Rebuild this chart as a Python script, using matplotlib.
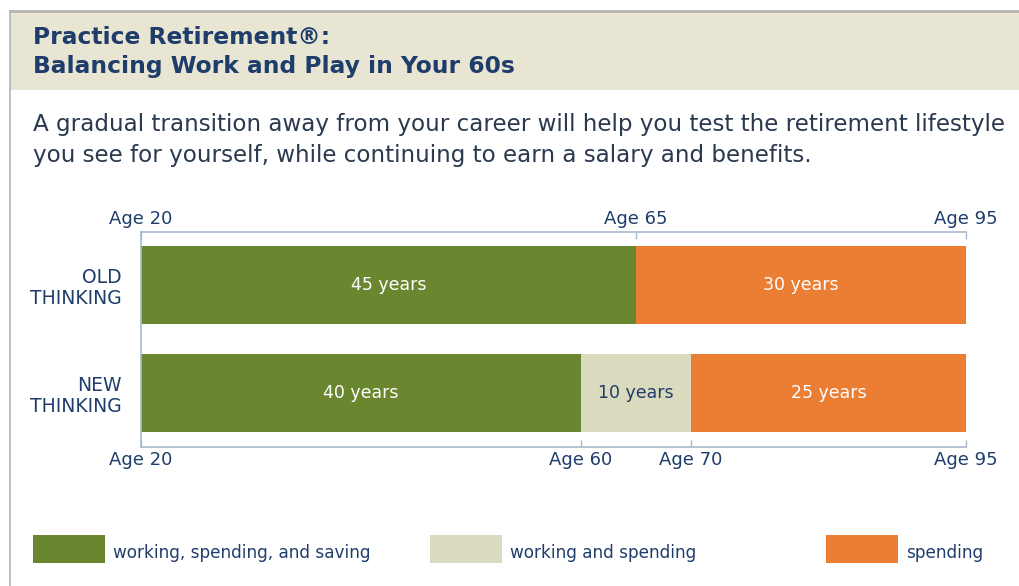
import matplotlib
matplotlib.use("Agg")
import matplotlib.pyplot as plt
from matplotlib.patches import Rectangle
from matplotlib.lines import Line2D

# ---- data ----
categories = ["OLD\nTHINKING", "NEW\nTHINKING"]
series_names = ["working, spending, and saving", "working and spending", "spending"]
old_years = [45, 0, 30]
new_years = [40, 10, 25]
start_age = 20
end_age = 95
top_ticks = [20, 65, 95]
bottom_ticks = [20, 60, 70, 95]
top_labels = ["Age 20", "Age 65", "Age 95"]
bottom_labels = ["Age 20", "Age 60", "Age 70", "Age 95"]

colors = ["#6A862E", "#DADBBE", "#EB7E33"]
label_colors = ["white", "#1F3D6B", "white"]
navy = "#1F3D6B"
axis_col = "#A9B9CD"

W, H = 1020, 586
fig = plt.figure(figsize=(W / 100, H / 100), dpi=100)
fig.patch.set_facecolor("white")

def fx(x):
    return x / W

def fy(y):
    return 1 - y / H

# header band and borders
fig.patches.append(Rectangle((fx(10), fy(90)), 1 - fx(10), fy(12) - fy(90),
                             transform=fig.transFigure, facecolor="#E8E6D3",
                             edgecolor="none", zorder=0))
fig.lines.append(Line2D([fx(10), 1], [fy(11), fy(11)], transform=fig.transFigure,
                        color="#B4B4B4", lw=2))
fig.lines.append(Line2D([fx(10), fx(10)], [fy(11), 0], transform=fig.transFigure,
                        color="#B4B4B4", lw=1.2))

fig.text(fx(33), fy(37), "Practice Retirement®:", fontsize=16.8, fontweight="bold",
         color=navy, va="center", ha="left")
fig.text(fx(33), fy(66), "Balancing Work and Play in Your 60s", fontsize=16.8,
         fontweight="bold", color=navy, va="center", ha="left")

fig.text(fx(33), fy(125), "A gradual transition away from your career will help you test the retirement lifestyle",
         fontsize=16.6, color="#2B3A4F", va="center", ha="left")
fig.text(fx(33), fy(155), "you see for yourself, while continuing to earn a salary and benefits.",
         fontsize=16.6, color="#2B3A4F", va="center", ha="left")

# chart axes
ax = fig.add_axes([fx(141), fy(447), fx(966) - fx(141), fy(232) - fy(447)])
ax2 = ax.twiny()
ax.set_facecolor("none")
ax.set_xlim(start_age, end_age)
ax.set_ylim(1.5, -0.491)
ax2.set_xlim(start_age, end_age)

rows = [old_years, new_years]
bar_h = 0.722
for yi, vals in enumerate(rows):
    left = start_age
    for si, v in enumerate(vals):
        if v > 0:
            ax.barh(yi, v, left=left, height=bar_h, color=colors[si],
                    edgecolor="none", zorder=2)
            ax.text(left + v / 2, yi, f"{v} years", ha="center", va="center",
                    fontsize=12.5, color=label_colors[si], zorder=3)
        left += v

# main axis: bottom ticks (Age 20/60/70/95)
ax.xaxis.tick_bottom()
ax.set_xticks(bottom_ticks)
ax.set_xticklabels(bottom_labels)
ax.tick_params(axis="x", direction="in", length=5, color=axis_col, width=1,
               labelsize=13, labelcolor=navy, pad=3)
ax.set_yticks([0, 1])
ax.set_yticklabels(categories, ha="right", linespacing=1.1)
ax.tick_params(axis="y", length=0, labelsize=13.5, labelcolor=navy, pad=14)
for sp in ["right", "top"]:
    ax.spines[sp].set_visible(False)
for sp in ["bottom", "left"]:
    ax.spines[sp].set_color(axis_col)
    ax.spines[sp].set_linewidth(1.2)

# twin axis: top ticks (Age 20/65/95)
ax2.xaxis.tick_top()
ax2.set_xticks(top_ticks)
ax2.set_xticklabels(top_labels)
ax2.tick_params(axis="x", direction="in", length=5, color=axis_col, width=1,
                labelsize=13, labelcolor=navy, pad=3)
for sp in ["bottom", "left", "right"]:
    ax2.spines[sp].set_visible(False)
ax2.spines["top"].set_color(axis_col)
ax2.spines["top"].set_linewidth(1.2)

# legend
leg_x = [33, 430, 826]
for i, name in enumerate(series_names):
    fig.patches.append(Rectangle((fx(leg_x[i]), fy(563)), fx(72), fy(535) - fy(563),
                                 transform=fig.transFigure, facecolor=colors[i],
                                 edgecolor="none"))
    fig.text(fx(leg_x[i] + 80), fy(553), name, fontsize=12.2, color=navy,
             va="center", ha="left")

fig.savefig("out.png", dpi=100, facecolor="white")
